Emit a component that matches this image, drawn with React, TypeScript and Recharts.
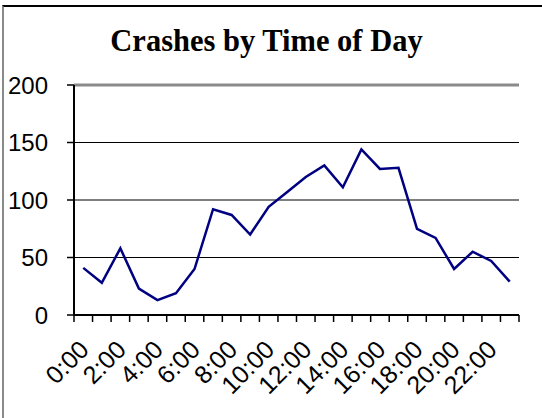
import React from 'react';
import { LineChart, Line, XAxis, YAxis, CartesianGrid, ReferenceLine } from 'recharts';

// hours of the day, one point per hour
const hours = [
  '0:00', '1:00', '2:00', '3:00', '4:00', '5:00', '6:00', '7:00',
  '8:00', '9:00', '10:00', '11:00', '12:00', '13:00', '14:00', '15:00',
  '16:00', '17:00', '18:00', '19:00', '20:00', '21:00', '22:00', '23:00',
];
const crashes = [41, 28, 58, 23, 13, 19, 40, 92, 87, 70, 94, 107, 120, 130, 111, 144, 127, 128, 75, 67, 40, 55, 47, 29];
const yTicks = [0, 50, 100, 150, 200];

const data = hours.map((h, i) => ({ hour: h, crashes: crashes[i] }));

const sans = '"Liberation Sans", Arial, sans-serif';

// Excel-style category axis: tick marks between categories, label on every other hour
const HourTick = (props: any) => {
  const { x, y, payload, index, width, visibleTicksCount } = props;
  const half = payload.offset || width / (2 * hours.length);
  const last = index === visibleTicksCount - 1;
  return (
    <g>
      <line x1={x - half} x2={x - half} y1={y} y2={y + 7} stroke="#000" strokeWidth={1.5} />
      {last && <line x1={x + half} x2={x + half} y1={y} y2={y + 7} stroke="#000" strokeWidth={1.5} />}
      {index % 2 === 0 && (
        <g transform={`translate(${x + 1},${y + 30})`}>
          <text
            x={0}
            y={0}
            dy="0.35em"
            textAnchor="end"
            transform="rotate(-45)"
            fontFamily={sans}
            fontSize={25}
            fill="#000"
          >
            {payload.value}
          </text>
        </g>
      )}
    </g>
  );
};

const App: React.FC = () => {
  return (
    <div style={{ position: 'absolute', left: 0, top: 0, width: 542, height: 418, background: '#fff' }}>
      {/* outer chart frame: only top and left edges show */}
      <div
        style={{
          position: 'absolute',
          left: 2,
          top: 5,
          width: 540,
          height: 413,
          borderTop: '2px solid #000',
          borderLeft: '2px solid #8a8a8a',
          boxSizing: 'border-box',
        }}
      />
      <div
        style={{
          position: 'absolute',
          left: 0,
          top: 22,
          width: 533,
          textAlign: 'center',
          fontFamily: '"Liberation Serif", "Times New Roman", serif',
          fontWeight: 'bold',
          fontSize: 30.5,
          lineHeight: '38px',
        }}
      >
        Crashes by Time of Day
      </div>
      <LineChart
        width={542}
        height={418}
        data={data}
        margin={{ top: 85, right: 23, bottom: 0, left: 0 }}
        style={{ position: 'absolute', left: 0, top: 0 }}
      >
        <CartesianGrid horizontal vertical={false} stroke="#000" strokeWidth={1.2} />
        <XAxis
          dataKey="hour"
          scale="band"
          interval={0}
          height={103}
          tickSize={0}
          tickMargin={0}
          axisLine={{ stroke: '#000', strokeWidth: 2 }}
          tickLine={false}
          tick={<HourTick />}
        />
        <YAxis
          domain={[0, 200]}
          ticks={yTicks}
          width={74}
          tickSize={7}
          tickMargin={19}
          axisLine={{ stroke: '#000', strokeWidth: 2 }}
          tickLine={{ stroke: '#000', strokeWidth: 1.5 }}
          tick={{ fontFamily: sans, fontSize: 24, fill: '#000' }}
        />
        <YAxis
          yAxisId="right"
          orientation="right"
          domain={[0, 200]}
          width={0}
          tick={false}
          tickLine={false}
          axisLine={{ stroke: '#8a8a8a', strokeWidth: 3 }}
        />
        <ReferenceLine y={200} stroke="#8a8a8a" strokeWidth={3} />
        <Line
          type="linear"
          dataKey="crashes"
          stroke="#000080"
          strokeWidth={2.5}
          dot={false}
          isAnimationActive={false}
        />
      </LineChart>
    </div>
  );
};

export default App;
